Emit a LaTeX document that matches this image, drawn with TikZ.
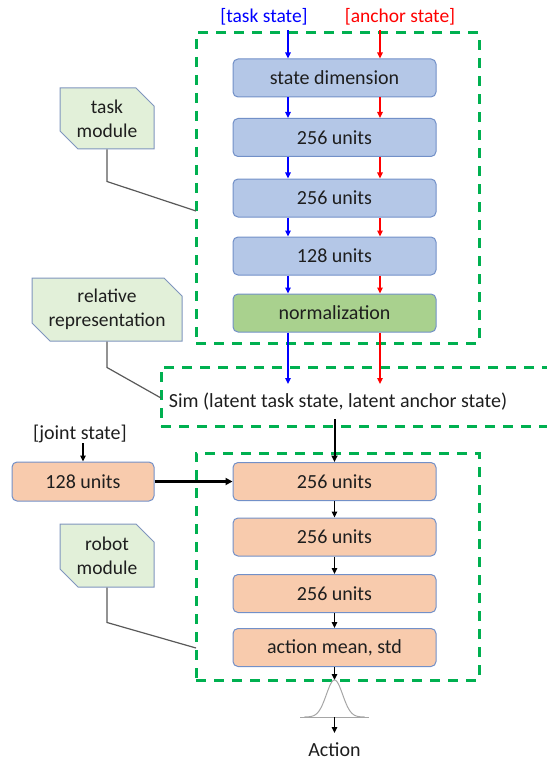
\documentclass[tikz,border=0pt]{standalone}
\usepackage{fontspec}
\setmainfont{Carlito}
\usetikzlibrary{arrows.meta,shapes.misc}

\definecolor{layerblue}{HTML}{B4C7E7}
\definecolor{layergreen}{HTML}{A9D18E}
\definecolor{layerorange}{HTML}{F8CBAD}
\definecolor{layerline}{HTML}{7290C8}
\definecolor{notefill}{HTML}{E2F0D9}
\definecolor{noteline}{HTML}{7F95BE}
\definecolor{groupgreen}{HTML}{00B050}
\definecolor{txt}{HTML}{1E1E1E}
\definecolor{leader}{HTML}{595959}

\tikzset{
  layer/.style={draw=layerline, line width=1pt, rounded corners=5pt,
    minimum width=203pt, minimum height=38pt, inner sep=0pt,
    font=\fontsize{20}{22}\selectfont, text=txt},
  bluelayer/.style={layer, fill=layerblue},
  greenlayer/.style={layer, fill=layergreen},
  orangelayer/.style={layer, fill=layerorange},
  groupbox/.style={draw=groupgreen, line width=3pt, dash pattern=on 10pt off 8pt,
    inner sep=0pt},
  note/.style={draw=noteline, fill=notefill, line width=1pt,
    chamfered rectangle, chamfered rectangle corners={north east, south west},
    chamfered rectangle xsep=9pt, chamfered rectangle ysep=9pt,
    inner sep=0pt, align=center, text=txt,
    font=\fontsize{19.5}{24}\selectfont},
  leaderline/.style={draw=leader, line width=1.2pt},
  bluearr/.style={draw=blue, line width=1.5pt, -{Triangle[length=6pt,width=5.5pt]}},
  redarr/.style={draw=red, line width=1.5pt, -{Triangle[length=6pt,width=5.5pt]}},
  blackarr/.style={draw=black, line width=1.6pt, -{Triangle[length=6pt,width=5.5pt]}},
  plain/.style={inner sep=0pt, text=txt, font=\fontsize{20}{22}\selectfont},
}

\begin{document}
\begin{tikzpicture}[x=1pt, y=-1pt]
\useasboundingbox (0,0) rectangle (546,762);

% group frames
\node[groupbox, minimum width=283pt, minimum height=310pt] (taskgroup) at (337.5,188) {};
\node[groupbox, minimum width=400pt, minimum height=59pt] (simgroup) at (361,396.5) {};
\node[groupbox, minimum width=283pt, minimum height=227pt] (robotgroup) at (337.5,566.5) {};

% input labels
\node[plain, text=blue, font=\fontsize{19.5}{22}\selectfont] (taskin) at (264,17) {[task state]};
\node[plain, text=red, font=\fontsize{19.5}{22}\selectfont] (anchorin) at (400,17) {[anchor state]};

% task encoder
\node[bluelayer] (t1) at (334.5,78) {state dimension};
\node[bluelayer] (t2) at (334.5,137.5) {256 units};
\node[bluelayer] (t3) at (334.5,198) {256 units};
\node[bluelayer] (t4) at (334.5,256) {128 units};
\node[greenlayer] (t5) at (334.5,313) {normalization};

\coordinate (bx) at (288,30);
\coordinate (rx) at (380,30);
\draw[bluearr] (bx) -- (t1.north -| bx);
\draw[redarr] (rx) -- (t1.north -| rx);
\foreach \a/\b in {t1/t2, t2/t3, t3/t4, t4/t5} {
  \draw[bluearr] (\a.south -| bx) -- (\b.north -| bx);
  \draw[redarr] (\a.south -| rx) -- (\b.north -| rx);
}

% similarity
\node[plain] (sim) at (338,402) {Sim (latent task state, latent anchor state)};
\coordinate (bsim) at (288,384);
\coordinate (rsim) at (380,384);
\draw[bluearr] (t5.south -| bx) -- (bsim);
\draw[redarr] (t5.south -| rx) -- (rsim);

% robot policy
\node[orangelayer] (r1) at (334.5,481.5) {256 units};
\node[orangelayer] (r2) at (334.5,537) {256 units};
\node[orangelayer] (r3) at (334.5,593.5) {256 units};
\node[orangelayer] (r4) at (334.5,647.5) {action mean, std};

\node[plain] (jointin) at (80,434) {[joint state]};
\node[orangelayer, minimum width=142pt, minimum height=39pt] (j1) at (83,481.5) {128 units};
\draw[blackarr] (jointin.south -| j1) -- (j1.north);
\draw[draw=black, line width=2.2pt, -{Triangle[length=7pt,width=7pt]}] (j1.east) -- (r1.west);

\coordinate (simout) at (334.5,419);
\draw[draw=black, line width=2pt, -{Triangle[length=6.5pt,width=6pt]}] (simout) -- (r1.north);
\draw[blackarr] (r1.south) -- (r2.north);
\draw[blackarr] (r2.south) -- (r3.north);
\draw[blackarr] (r3.south) -- (r4.north);

% output distribution
\coordinate (peak) at (334.5,680);
\coordinate (base) at (334.5,717);
\draw[blackarr] (r4.south) -- (peak);
\draw[gray!70, line width=1pt] (300,717) -- (369,717);
\draw[gray!70, line width=1pt, domain=-30:30, samples=80, smooth]
  plot ({334.5+\x}, {717-37*exp(-(\x/11.5)^2)});
\node[plain, anchor=base] (action) at (334.5,756) {Action};
\draw[blackarr] (base) -- (334.5,733);

% callouts
\node[note, minimum width=94pt, minimum height=61pt] (tasknote) at (107,118.5) {task\\module};
\node[note, minimum width=150pt, minimum height=63pt] (relnote) at (107,309.5) {relative\\representation};
\node[note, minimum width=94pt, minimum height=63pt] (robotnote) at (107,555.5) {robot\\module};

\coordinate (taskend) at (196,211);
\coordinate (relend) at (161,398);
\coordinate (robotend) at (196,648);
\draw[leaderline] (tasknote.south) -- ++(0,32) -- (taskend);
\draw[leaderline] (relnote.south) -- ++(0,26) -- (relend);
\draw[leaderline] (robotnote.south) -- ++(0,35) -- (robotend);
\end{tikzpicture}
\end{document}
